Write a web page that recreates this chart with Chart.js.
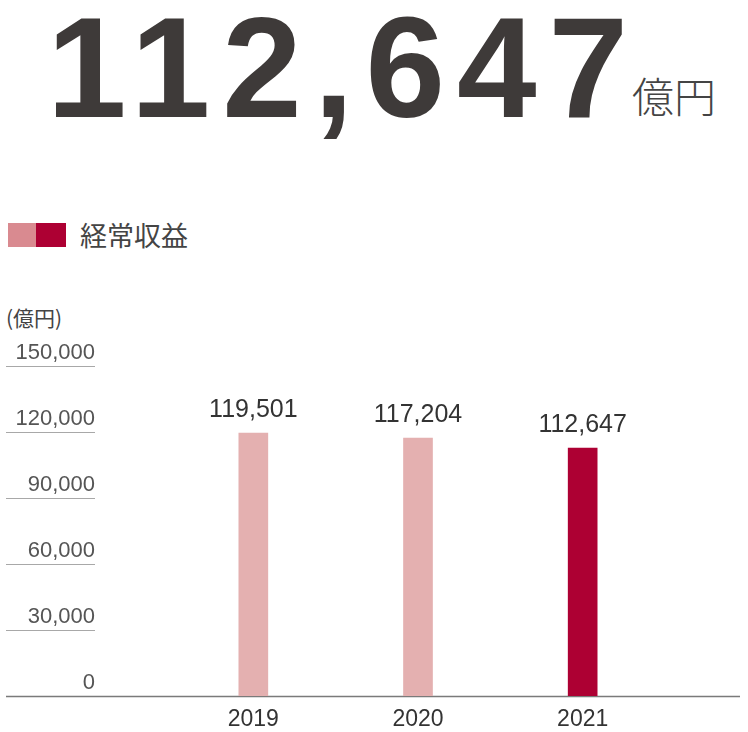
<!DOCTYPE html>
<html lang="ja">
<head>
<meta charset="utf-8">
<script src="https://cdn.jsdelivr.net/npm/chart.js@4/dist/chart.umd.min.js"></script>
<style>
  html, body { margin: 0; padding: 0; background: #fff; }
  #wrap { position: relative; width: 748px; height: 732px; overflow: hidden; font-family: "Liberation Sans", Arial, sans-serif; color: #3e3a39; }
  #big { position: absolute; left: 47px; top: -4px; font-size: 143px; font-weight: bold; letter-spacing: 12px; color: #3e3a39; line-height: 1; }
  #unit { position: absolute; left: 632px; top: 74px; font-family: "Noto Sans CJK JP", sans-serif; font-size: 42px; font-weight: 300; color: #444; line-height: 1; }
  #legend { position: absolute; left: 8px; top: 215px; display: flex; align-items: center; }
  #legend .sw1 { width: 28px; height: 24px; background: #d98a90; }
  #legend .sw2 { width: 30px; height: 24px; background: #ad0033; }
  #legend span { margin-left: 14px; font-family: "Noto Sans CJK JP", sans-serif; font-size: 27px; color: #444; }
  #yunit { position: absolute; left: 6px; top: 302px; font-family: "Noto Sans CJK JP", sans-serif; font-size: 21px; color: #444; }
  #revenueChart { position: absolute; left: 0; top: 0; }
</style>
</head>
<body>
<div id="wrap">
  <div id="big">112,647</div>
  <div id="unit">億円</div>
  <div id="legend"><div class="sw1"></div><div class="sw2"></div><span>経常収益</span></div>
  <div id="yunit">(億円)</div>
  <canvas id="revenueChart" width="748" height="732"></canvas>
</div>
<script>
// years and ordinary revenue (億円)
const years = ['2019', '2020', '2021'];
const revenue = [119501, 117204, 112647];
const barColors = ['#e4b0b0', '#e4b0b0', '#ad0033'];
const yTicks = [0, 30000, 60000, 90000, 120000, 150000];

// short grid lines under the tick labels, long base line at zero
const gridPlugin = {
    id: 'shortGrid',
    beforeDatasetsDraw(chart) {
        const c = chart.ctx;
        const y = chart.scales.y;
        c.save();
        yTicks.forEach(v => {
            const py = Math.round(y.getPixelForValue(v)) + 0.5;
            c.beginPath();
            if (v === 0) {
                c.strokeStyle = '#7a7a7a';
                c.lineWidth = 1.5;
                c.moveTo(6, py);
                c.lineTo(740, py);
            } else {
                c.strokeStyle = '#a8a8a8';
                c.lineWidth = 1;
                c.moveTo(6, py);
                c.lineTo(95, py);
            }
            c.stroke();
        });
        c.restore();
    }
};

// value above each bar
const valuePlugin = {
    id: 'barValues',
    afterDatasetsDraw(chart) {
        const c = chart.ctx;
        const meta = chart.getDatasetMeta(0);
        c.save();
        c.font = '25px "Liberation Sans", Arial, sans-serif';
        c.fillStyle = '#333';
        c.textAlign = 'center';
        c.textBaseline = 'alphabetic';
        meta.data.forEach((bar, i) => {
            c.fillText(revenue[i].toLocaleString('en-US'), bar.x, bar.y - 16);
        });
        c.restore();
    }
};

const ctx = document.getElementById('revenueChart').getContext('2d');
new Chart(ctx, {
    type: 'bar',
    data: {
        labels: years,
        datasets: [{
            label: '経常収益',
            data: revenue,
            backgroundColor: barColors,
            barThickness: 29
        }]
    },
    options: {
        responsive: false,
        animation: false,
        layout: { padding: { top: 366, right: 83, bottom: 0, left: 0 } },
        plugins: {
            legend: { display: false },
            tooltip: { enabled: false }
        },
        scales: {
            x: {
                grid: { display: false, drawTicks: false },
                border: { display: false },
                ticks: {
                    color: '#333',
                    padding: 10,
                    font: { family: '"Liberation Sans", Arial, sans-serif', size: 23 }
                },
                afterFit(scale) { scale.height = 36; }
            },
            y: {
                min: 0,
                max: 150000,
                grid: { display: false, drawTicks: false },
                border: { display: false },
                afterBuildTicks(scale) { scale.ticks = yTicks.map(v => ({ value: v })); },
                ticks: {
                    color: '#555',
                    padding: 76,
                    labelOffset: -13,
                    font: { family: '"Liberation Sans", Arial, sans-serif', size: 22 },
                    callback: v => v.toLocaleString('en-US')
                },
                afterFit(scale) {
                    scale.width = 171;
                    scale.paddingTop = 0;
                    scale.paddingBottom = 0;
                }
            }
        }
    },
    plugins: [gridPlugin, valuePlugin]
});
</script>
</body>
</html>
